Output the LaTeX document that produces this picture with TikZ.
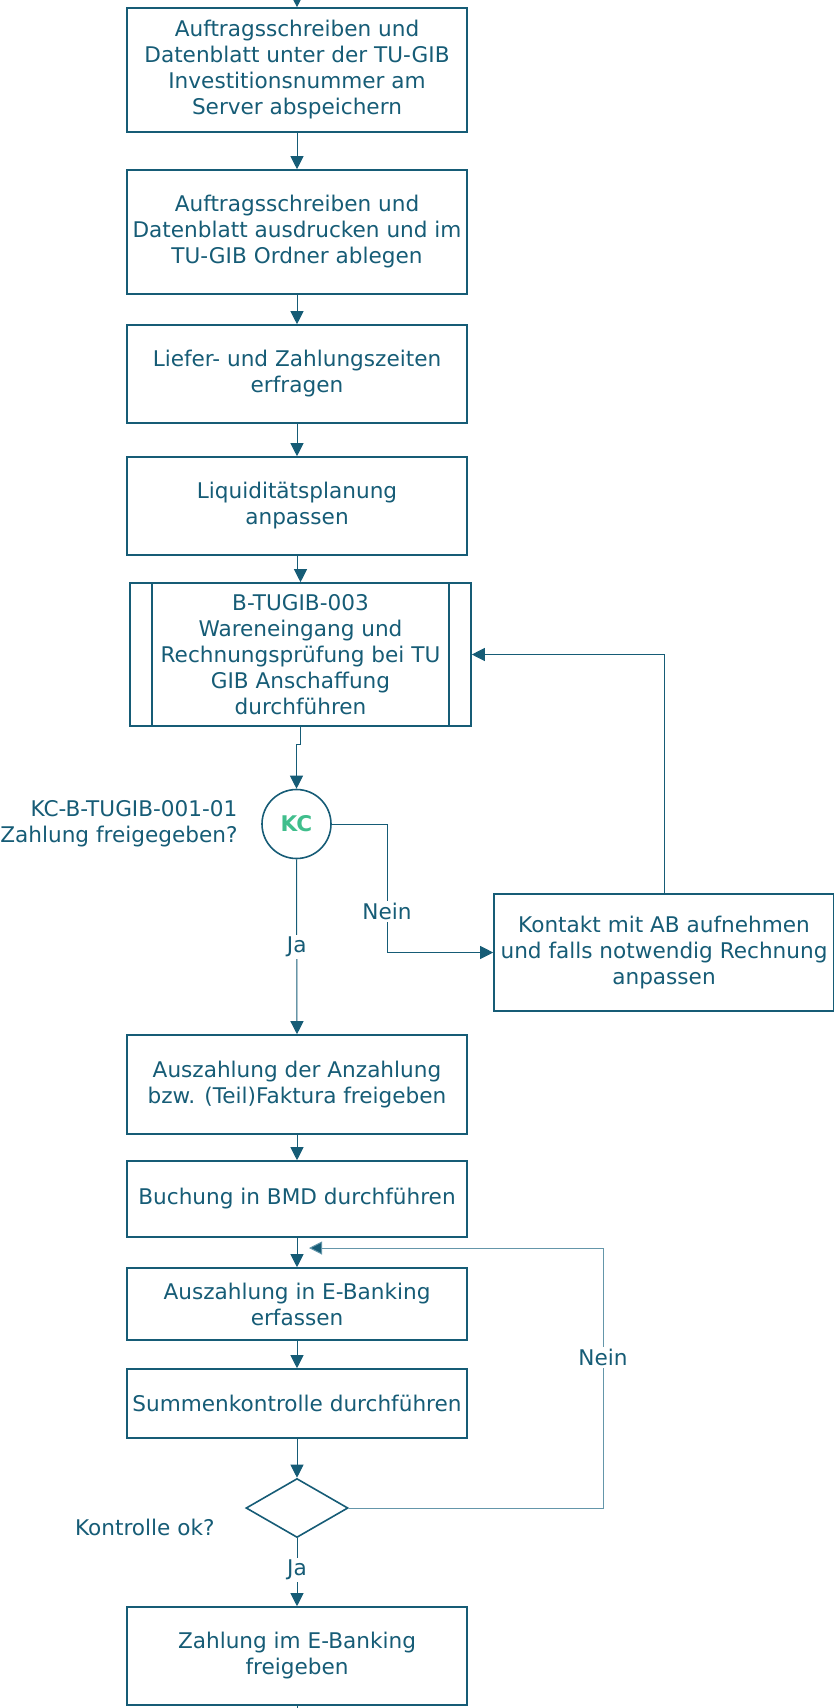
\documentclass[tikz,border=0pt]{standalone}
\usepackage{fontspec}
\setmainfont{DejaVu Sans}
\usetikzlibrary{calc,arrows.meta,shapes.geometric}
\definecolor{tug}{RGB}{22,92,118}
\definecolor{tuglight}{RGB}{100,150,170}
\definecolor{kcgreen}{RGB}{64,190,140}
\tikzset{
	every node/.style={text=tug, font=\fontsize{21.6}{26}\selectfont},
	box/.style={draw=tug, line width=1.6pt, rectangle, minimum width=340pt, align=center, inner sep=0pt},
	subproc/.style={box, minimum width=341pt},
	kcnode/.style={draw=tug, line width=1.6pt, circle, minimum size=69pt, inner sep=0pt, text=kcgreen, font=\fontsize{21.6}{26}\selectfont\bfseries},
	decision/.style={draw=tug, line width=1.6pt, diamond, minimum width=102pt, minimum height=59pt, inner sep=0pt},
	lbl/.style={fill=white, inner sep=2pt},
	line/.style={draw=tug, line width=1pt},
	arr/.style={line, -{Triangle[length=13pt,width=13pt]}},
	loop/.style={draw=tuglight, line width=1pt, -{Triangle[length=13pt,width=13pt,fill=tug]}}
}

\begin{document}
\begin{tikzpicture}[x=1pt, y=-1pt]
		%%%%% START %%%%%
		\useasboundingbox (0,0) rectangle (833,1708);
		
		\node[box, minimum height=124pt] (b1) at (297,70) {Auftragsschreiben und\\Datenblatt unter der TU-GIB\\Investitionsnummer am\\Server abspeichern};
		\node[box, minimum height=124pt] (b2) at (297,232) {Auftragsschreiben und\\Datenblatt ausdrucken und im\\TU-GIB Ordner ablegen};
		\node[box, minimum height=98pt] (b3) at (297,374) {Liefer- und Zahlungszeiten\\erfragen};
		\node[box, minimum height=98pt] (b4) at (297,506) {Liquiditätsplanung\\anpassen};
		
		\node[subproc, minimum height=143pt] (b5) at (300.5,654.5) {B-TUGIB-003\\Wareneingang und\\Rechnungsprüfung bei TU\\GIB Anschaffung\\durchführen};
		\draw[tug, line width=1.6pt] ([xshift=23pt]b5.north west) -- ([xshift=23pt]b5.south west);
		\draw[tug, line width=1.6pt] ([xshift=-23pt]b5.north east) -- ([xshift=-23pt]b5.south east);
		
		\node[kcnode] (kc) at (296.5,824) {KC};
		\node[anchor=east, align=right] (kclbl) at (241,823.5) {KC-B-TUGIB-001-01\\Zahlung freigegeben?};
		
		\node[box, minimum height=117pt] (b6) at (664,952.5) {Kontakt mit AB aufnehmen\\und falls notwendig Rechnung\\anpassen};
		
		\node[box, minimum height=99pt] (b7) at (297,1084.5) {Auszahlung der Anzahlung\\bzw. (Teil)Faktura freigeben};
		\node[box, minimum height=76pt] (b8) at (297,1199) {Buchung in BMD durchführen};
		\node[box, minimum height=72pt] (b9) at (297,1304) {Auszahlung in E-Banking\\erfassen};
		\node[box, minimum height=69pt] (b10) at (297,1403.5) {Summenkontrolle durchführen};
		
		\node[decision] (dia) at (297,1508) {};
		\node[anchor=east] (dialbl) at (218,1527) {Kontrolle ok?};
		
		\node[box, minimum height=98pt] (b11) at (297,1656) {Zahlung im E-Banking\\freigeben};
		
		% connectors
		\coordinate (start) at (297,0);
		\coordinate (fin) at (297,1708);
		\coordinate (kcbend) at (387,824);
		\coordinate (okloop) at (603,1248);
		\coordinate (loopend) at (309,1248);
		
		\draw[arr] (start) -- (b1.north);
		\draw[arr] (b1.south) -- (b2.north);
		\draw[arr] (b2.south) -- (b3.north);
		\draw[arr] (b3.south) -- (b4.north);
		\draw[arr] (b4.south) |- ($(b4.south)!0.5!(b5.north)$) -| (b5.north);
		\draw[arr] (b5.south) |- ($(b5.south)!0.5!(kc.north)+(0,-13)$) -| (kc.north);
		\draw[arr] (kc.east) -- (kcbend) |- node[pos=0.34, lbl] {Nein} (b6.west);
		\draw[arr] (b6.north) |- (b5.east);
		\draw[arr] (kc.south) -- node[pos=0.5, lbl] {Ja} (b7.north);
		\draw[arr] (b7.south) -- (b8.north);
		\draw[arr] (b8.south) -- (b9.north);
		\draw[arr] (b9.south) -- (b10.north);
		\draw[arr] (b10.south) -- (dia.north);
		\draw[loop] (dia.east) -| node[pos=0.79, lbl] {Nein} (okloop) -- (loopend);
		\draw[arr] (dia.south) -- node[pos=0.46, lbl] {Ja} (b11.north);
		\draw[line] (b11.south) -- (fin);
		%%%%% END %%%%%
\end{tikzpicture}
\end{document}
